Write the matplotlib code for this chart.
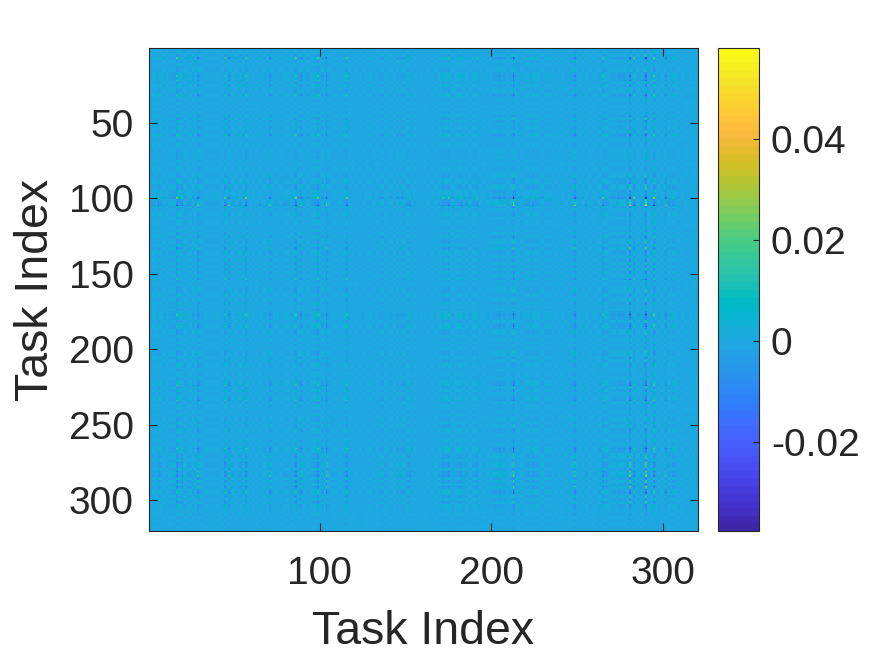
import numpy as np
import matplotlib
matplotlib.use("Agg")
import matplotlib.pyplot as plt
from matplotlib.colors import ListedColormap

plt.rcParams['font.family'] = ['Liberation Sans', 'DejaVu Sans']
plt.rcParams['axes.unicode_minus'] = False

# values: the matrix looks like rows x columns of the visible stripes
n_tasks = 320
col_tasks = [6, 12, 17, 20, 25, 29, 38, 45, 47, 57, 65, 71, 79, 86, 89, 92, 99, 104, 111, 116, 125, 137, 148,
             153, 160, 172, 175, 183, 192, 199, 205, 213, 224, 235, 249, 255, 265, 274, 281, 283, 290, 295,
             302, 306, 315]
col_weights = [.03, -.012, .022, .02, .02, -.018, .006, .02, -.018, .025, .008, -.018, .008, .028, -.015, -.012,
               .028, -.055, .01, .02, -.008, -.02, -.025, .028, -.01, .028, .02, .025, .018, -.008, -.03, -.045,
               .028, .012, -.025, .012, .02, -.025, -.04, .02, -.045, .03, -.018, .025, -.008]
row_tasks = [7, 15, 19, 22, 27, 32, 46, 52, 58, 63, 72, 87, 89, 100, 105, 114, 126, 133, 140, 148, 154, 166, 172,
             177, 185, 195, 205, 213, 224, 234, 250, 254, 266, 275, 281, 284, 291, 295, 301, 308]
row_weights = [.28, .08, .15, .18, .15, .18, .22, .15, .12, .08, -.2, .15, -.12, .4, -1.0, .18, .15, -.15, .25, .12,
               .28, -.15, .28, .28, .22, -.15, -.22, .15, .22, .18, -.18, .12, .28, -.2, -.22, -.2, -.28, .3, -.15,
               .15]

# weaker texture between the stripes, one value for every two tasks
col_texture = [2, 4, -3, 6, -6, 5, -4, -7, 8, 7, -5, 9, -8, 6, -9, -3, 4, 2, -2, 3,
               2, -3, 7, -8, 6, -5, 9, -7, 5, -2, 3, -2, 4, -5, 3, -6, 2, 4, -3, 2,
               5, -4, 8, -7, -6, 7, -8, 5, 9, 4, -9, 6, -3, 5, 2, -4, 3, 7, -2, 2,
               -2, 3, -3, 2, 4, -3, 2, -7, 6, 3, -5, 4, -8, 7, -6, 8, -5, 3, -3, 2,
               2, -3, 3, -4, 5, -5, 7, 8, -6, 5, 8, -6, 7, -4, 5, 6, -3, 2, -4, 3,
               -7, -8, 6, -9, 4, -6, -9, 5, -4, 2, 8, -3, 6, 5, -5, 4, 3, -2, 3, -2,
               2, -3, 2, -4, -6, 4, -5, 6, -3, 2, 4, -5, 6, 7, -5, -6, 7, -7, -8, 6,
               -8, 7, -5, 8, -9, 7, -6, 8, -5, 4, -6, 7, -5, 6, -3, 3, -2, 2, -2, 1]
row_texture = [1, 3, -5, 6, -4, 3, -3, -5, 5, 6, 5, -4, 6, -5, -4, 6, 3, -3, 2, -2,
               2, -3, 3, -5, 5, -3, 4, -5, 6, 2, -3, 3, 2, -2, -3, 4, -3, 3, -2, 3,
               2, -3, -5, 4, 6, -5, -6, 5, 4, 7, -6, -9, 6, -3, 4, 5, -4, 3, 2, -3,
               3, -4, 5, -3, -5, 4, -5, 6, 3, -4, 6, -5, 5, -6, 6, -4, 3, -3, 2, -3,
               -5, 4, 3, -5, 6, -5, -4, 6, 8, 6, -5, 7, 6, -4, -5, 3, -3, 4, -2, 3,
               -5, -4, 6, -5, 4, 3, -3, 2, 3, -3, 5, 7, -5, 6, -3, 4, 6, -4, 3, 2,
               -3, 3, -2, -4, 4, -5, 5, 3, -3, 2, 4, -3, 6, 7, -5, -6, 4, -6, -7, 5,
               -6, -7, 6, -8, 5, -7, 7, 6, -6, 5, -5, 5, 4, -3, 3, -2, 2, -2, 1, 1]
col_texture_unit = 0.0015
row_texture_unit = 0.035

x_ticks = [100, 200, 300]
y_ticks = [50, 100, 150, 200, 250, 300]
cbar_ticks = [-0.02, 0, 0.02, 0.04]
cbar_labels = ['-0.02', '0', '0.02', '0.04']
v_min = -0.0376
v_max = 0.058

# matlab parula, 64 levels
parula = [
    [0.2422, 0.1504, 0.6603], [0.2504, 0.1650, 0.7076], [0.2578, 0.1818, 0.7511], [0.2647, 0.1978, 0.7952],
    [0.2706, 0.2147, 0.8364], [0.2751, 0.2342, 0.8710], [0.2783, 0.2559, 0.8991], [0.2803, 0.2782, 0.9221],
    [0.2813, 0.3006, 0.9414], [0.2810, 0.3228, 0.9579], [0.2795, 0.3447, 0.9717], [0.2760, 0.3667, 0.9829],
    [0.2699, 0.3892, 0.9906], [0.2602, 0.4123, 0.9952], [0.2440, 0.4358, 0.9988], [0.2206, 0.4603, 0.9973],
    [0.1963, 0.4847, 0.9892], [0.1834, 0.5074, 0.9798], [0.1786, 0.5289, 0.9682], [0.1764, 0.5499, 0.9520],
    [0.1687, 0.5703, 0.9359], [0.1540, 0.5902, 0.9218], [0.1460, 0.6091, 0.9079], [0.1380, 0.6276, 0.8973],
    [0.1248, 0.6459, 0.8883], [0.1113, 0.6635, 0.8763], [0.0952, 0.6798, 0.8598], [0.0689, 0.6948, 0.8394],
    [0.0297, 0.7082, 0.8163], [0.0036, 0.7203, 0.7917], [0.0067, 0.7312, 0.7660], [0.0433, 0.7411, 0.7394],
    [0.0964, 0.7500, 0.7120], [0.1408, 0.7584, 0.6842], [0.1717, 0.7670, 0.6554], [0.1938, 0.7758, 0.6251],
    [0.2161, 0.7843, 0.5923], [0.2470, 0.7918, 0.5567], [0.2906, 0.7973, 0.5188], [0.3406, 0.8008, 0.4789],
    [0.3909, 0.8029, 0.4354], [0.4456, 0.8024, 0.3909], [0.5044, 0.7993, 0.3480], [0.5616, 0.7942, 0.3045],
    [0.6174, 0.7876, 0.2612], [0.6720, 0.7793, 0.2227], [0.7242, 0.7698, 0.1910], [0.7738, 0.7598, 0.1646],
    [0.8203, 0.7498, 0.1535], [0.8634, 0.7406, 0.1596], [0.9035, 0.7330, 0.1774], [0.9393, 0.7288, 0.2100],
    [0.9728, 0.7298, 0.2394], [0.9956, 0.7434, 0.2371], [0.9970, 0.7659, 0.2199], [0.9952, 0.7893, 0.2028],
    [0.9892, 0.8136, 0.1885], [0.9786, 0.8386, 0.1766], [0.9676, 0.8639, 0.1643], [0.9610, 0.8890, 0.1537],
    [0.9597, 0.9135, 0.1423], [0.9628, 0.9373, 0.1265], [0.9691, 0.9606, 0.1064], [0.9769, 0.9839, 0.0805]]

row_profile = np.repeat(row_texture, 2) * row_texture_unit
row_profile[np.array(row_tasks) - 1] += row_weights
col_profile = np.repeat(col_texture, 2) * col_texture_unit
col_profile[np.array(col_tasks) - 1] += col_weights
matrix = np.outer(row_profile, col_profile)

dark = '#262626'
W, H = 875, 656
fig = plt.figure(figsize=(W / 100, H / 100), dpi=100)
ax = fig.add_axes([149 / W, 1 - 531 / H, 549 / W, 483 / H])
cax = fig.add_axes([718 / W, 1 - 531 / H, 41 / W, 483 / H])

im = ax.imshow(matrix, cmap=ListedColormap(parula), vmin=v_min, vmax=v_max, aspect='auto',
               interpolation='nearest', extent=[0.5, n_tasks + 0.5, n_tasks + 0.5, 0.5])
ax.set_xticks(x_ticks)
ax.set_yticks(y_ticks)
ax.tick_params(direction='in', top=True, right=True, length=5.5, width=0.8, color=dark,
               labelcolor=dark, labelsize=28)
ax.tick_params(axis='x', pad=18)
ax.tick_params(axis='y', pad=11)
ax.set_xlabel('Task Index', fontsize=33.5, color=dark, labelpad=13)
ax.set_ylabel('Task Index', fontsize=33.5, color=dark, labelpad=8)
for s in ax.spines.values():
    s.set_linewidth(0.8)
    s.set_color(dark)

cb = fig.colorbar(im, cax=cax)
cb.set_ticks(cbar_ticks)
cb.set_ticklabels(cbar_labels)
cax.tick_params(direction='in', length=4, width=0.8, color=dark, labelcolor=dark, labelsize=28, pad=8.5)
cb.outline.set_linewidth(0.8)
cb.outline.set_edgecolor(dark)

plt.savefig('out.png', dpi=100)
